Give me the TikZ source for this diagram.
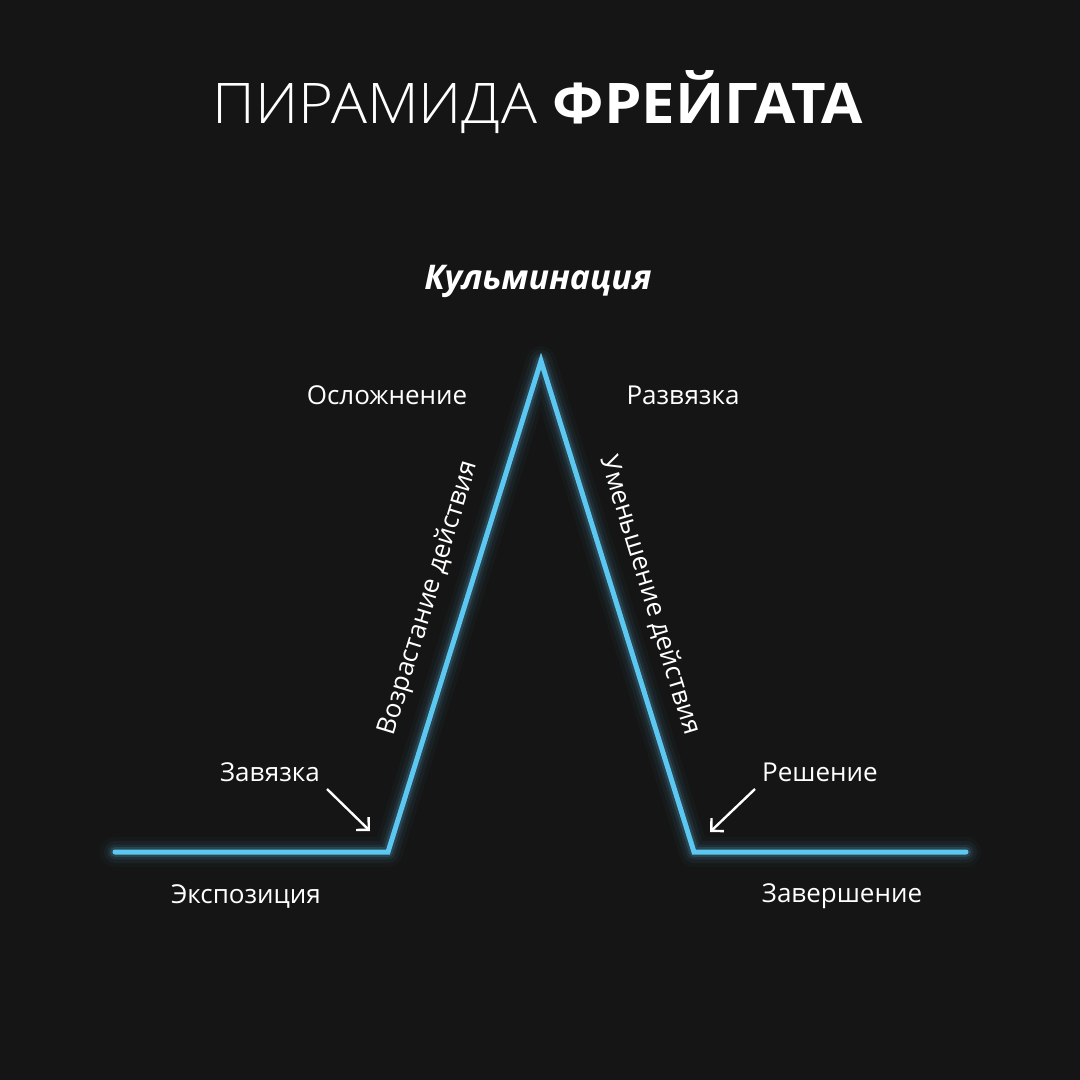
\documentclass[tikz,border=0pt]{standalone}
\usepackage{fontspec}
\setmainfont{Open Sans}
\newfontfamily\lightfont{Open Sans Light}
\usetikzlibrary{arrows.meta}
\definecolor{bg}{HTML}{151515}
\definecolor{neon}{HTML}{5CC8F2}
\begin{document}
\begin{tikzpicture}[x=1pt,y=-1pt,
  lbl/.style={text=white,font=\fontsize{26}{30}\selectfont,inner sep=0pt},
  pointer/.style={draw=white,line width=2.4pt,-{Straight Barb[length=9pt,width=18pt,line width=2.4pt]}},
  glowline/.style={draw=neon,line join=round,line cap=round}]
\fill[bg] (0,0) rectangle (1080,1080);
\useasboundingbox (0,0) rectangle (1080,1080);
\coordinate (a) at (115,852);
\coordinate (b) at (388,852);
\coordinate (c) at (541,361);
\coordinate (d) at (694,852);
\coordinate (e) at (966,852);
\foreach \w/\o in {30/0.03,22/0.05,15/0.08,10/0.15}
  \draw[glowline,line width=\w pt,opacity=\o] (a)--(b)--(c)--(d)--(e);
\draw[draw=neon,line width=5pt,line join=miter,line cap=round] (a)--(b)--(c)--(d)--(e);

\node[text=white,inner sep=0pt,anchor=base,xscale=1.07,font=\fontsize{56}{60}\selectfont] (title) at (538,123)
  {{\lightfont ПИРАМИДА} \textbf{ФРЕЙГАТА}};
\node[lbl,font=\fontsize{34}{38}\selectfont\bfseries\itshape] (klm) at (538,281) {Кульминация};
\node[lbl] (osl) at (387,395) {Осложнение};
\node[lbl] (rzv) at (683,395) {Развязка};
\node[lbl] (zvz) at (270,772) {Завязка};
\node[lbl] (rsh) at (820,772) {Решение};
\node[lbl] (exp) at (246,896) {Экспозиция};
\node[lbl] (zvr) at (842,896) {Завершение};
\node[lbl,rotate=73] (rise) at (429,598) {Возрастание действия};
\node[lbl,rotate=-73] (fall) at (650,595) {Уменьшение действия};

\coordinate (p1) at (327,789);
\coordinate (p2) at (370,831);
\coordinate (q1) at (755,789);
\coordinate (q2) at (710,832);
\draw[pointer] (p1) -- (p2);
\draw[pointer] (q1) -- (q2);
\end{tikzpicture}
\end{document}
